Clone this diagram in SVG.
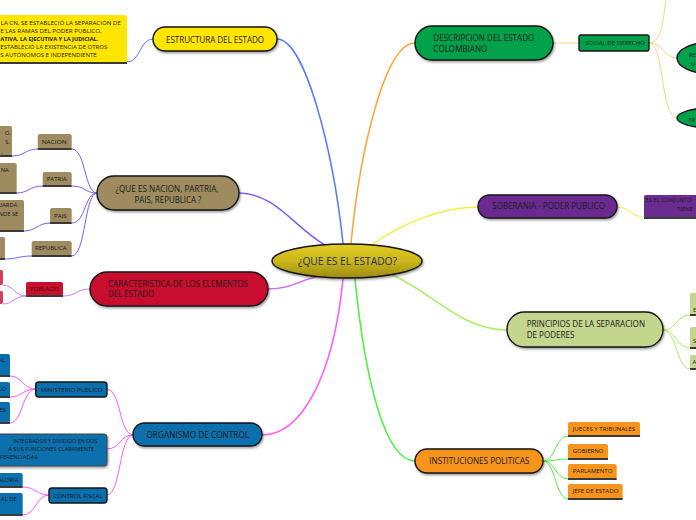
<svg xmlns="http://www.w3.org/2000/svg" width="696" height="520" viewBox="0 0 696 520">
<style>
text{font-family:"Open Sans","Noto Sans",sans-serif;fill:#1a1a1a}
.m{font-size:8.4px}
.s{font-size:5.8px}
.t{font-size:5.3px}
.c{fill:none;stroke-linecap:round}
.k{stroke:#151515;stroke-width:1.4}
.ul{stroke:#3a3a3a;stroke-width:2}
.b1{stroke:#5a7cf5}
.b2{stroke:#7c5cf8}
.b3{stroke:#c87af7}
.b4{stroke:#ff5cf5}
.b5{stroke:#ffa533}
.b5l{stroke:#ffcf85}
.b6{stroke:#f0f03c}
.b7{stroke:#a8f060}
.b8{stroke:#50ef42}
</style>
<defs>
<linearGradient id="cg" x1="0" y1="0" x2="0" y2="1"><stop offset="0" stop-color="#e0cd24"/><stop offset="0.5" stop-color="#cbb71b"/><stop offset="1" stop-color="#9c8b10"/></linearGradient>
<filter id="sh" x="-10%" y="-30%" width="125%" height="180%"><feDropShadow dx="1" dy="1.5" stdDeviation="0.8" flood-color="#000" flood-opacity="0.4"/></filter>
</defs>
<rect width="696" height="520" fill="#fff"/>

<g id="connectors">
<path class="c b1" stroke-width="1.6" d="M343,243 C333,150 305,39 277,39"/>
<path class="c b1" stroke-width="1" d="M127,62 C141,62 139,39 153,39"/>
<path class="c b2" stroke-width="1.5" d="M325,245 C295,228 275,193 239,193"/>
<path class="c b2" stroke-width="1" d="M97,193 C84,193 86,149 72,149"/>
<path class="c b2" stroke-width="1" d="M97,193 C84,193 86,186 72,186"/>
<path class="c b2" stroke-width="1" d="M97,193 C84,193 86,223 72,223"/>
<path class="c b2" stroke-width="1" d="M97,193 C84,193 86,256 72,256"/>
<path class="c b2" stroke-width="1" d="M37.7,149 C25,149 25,156 12,156"/>
<path class="c b2" stroke-width="1" d="M42.7,186 C29,186 29,193 16.7,193"/>
<path class="c b2" stroke-width="1" d="M50,223 C37,223 37,231 24,231"/>
<path class="c b2" stroke-width="1" d="M31.7,256 C18,256 18,259 5,259"/>
<path class="c b3" stroke-width="1.5" d="M320,276 C300,280 290,289 268,289"/>
<path class="c b3" stroke-width="1" d="M90,289 C76,289 77,296 63,296"/>
<path class="c b3" stroke-width="1" d="M26,296 C14,296 14,285 3,285"/>
<path class="c b3" stroke-width="1" d="M26,296 C14,296 14,304 3,304"/>
<path class="c b4" stroke-width="1.6" d="M343,279 C333,380 300,435 262,435"/>
<path class="c b4" stroke-width="1" d="M133,435 C119,435 121,389 107,389"/>
<path class="c b4" stroke-width="1" d="M133,435 C119,435 121,449 107,449"/>
<path class="c b4" stroke-width="1" d="M133,435 C119,435 121,495 107,495"/>
<path class="c b4" stroke-width="1" d="M35.7,389 C22,389 23,376 10,376"/>
<path class="c b4" stroke-width="1" d="M35.7,389 C22,389 23,397 10,397"/>
<path class="c b4" stroke-width="1" d="M35.7,389 C22,389 23,423 10,423"/>
<path class="c b4" stroke-width="1" d="M49,495 C36,495 36,487 22.7,487"/>
<path class="c b4" stroke-width="1" d="M49,495 C36,495 36,515 22.7,515"/>
<path class="c b5" stroke-width="1.6" d="M351,243 C360,150 385,43 415,43"/>
<path class="c b5l" stroke-width="1" d="M553,43 L579,43"/>
<path class="c b5l" stroke-width="1" d="M649,43 C665,43 662,58 677,58"/>
<path class="c b5l" stroke-width="1" d="M649,43 C665,43 660,118 677,118"/>
<path class="c b5l" stroke-width="1" d="M649,43 C664,43 663,12 667,-5"/>
<path class="c b6" stroke-width="1.5" d="M373,244 C400,225 440,207 478,207"/>
<path class="c b6" stroke-width="1" d="M617,207 C631,207 630,217 644,217"/>
<path class="c b7" stroke-width="1.5" d="M390,274 C430,290 460,330 507,330"/>
<path class="c b7" stroke-width="1" d="M663,330 C677,330 676,315 690,315"/>
<path class="c b7" stroke-width="1" d="M663,330 C677,330 676,348 690,348"/>
<path class="c b7" stroke-width="1" d="M663,330 C677,330 676,369 690,369"/>
<path class="c b8" stroke-width="1.6" d="M355,279 C365,380 385,461 415,461"/>
<path class="c b8" stroke-width="1" d="M543,461 C556,461 555,436 568,436"/>
<path class="c b8" stroke-width="1" d="M543,461 C556,461 555,459 568,459"/>
<path class="c b8" stroke-width="1" d="M543,461 C556,461 555,479 568,479"/>
<path class="c b8" stroke-width="1" d="M543,461 C556,461 555,499 568,499"/>
</g>

<g id="center">
<ellipse cx="347" cy="261" rx="75" ry="17" fill="url(#cg)" class="k" filter="url(#sh)"/>
<text x="347.5" y="265" text-anchor="middle" font-size="10" style="fill:#1f2d5c" textLength="99" lengthAdjust="spacingAndGlyphs">¿QUE ES EL ESTADO?</text>
</g>

<g id="estructura-nota">
<rect x="-10" y="15" width="137" height="48" rx="3" fill="#ffe500"/>
<line x1="-10" y1="63" x2="127" y2="63" class="ul"/>
<text class="t" x="120.7" y="24.7" text-anchor="end" textLength="120" lengthAdjust="spacingAndGlyphs">LA CN, SE ESTABLECIÓ LA SEPARACIÓN DE</text>
<text class="t" x="101.7" y="32.7" text-anchor="end" textLength="101.5" lengthAdjust="spacingAndGlyphs">E LAS RAMAS DEL PODER PUBLICO,</text>
<text class="t" x="98.3" y="40.7" text-anchor="end" font-weight="bold" textLength="98" lengthAdjust="spacingAndGlyphs">ATIVA, LA EJECUTIVA Y LA JUDICIAL.</text>
<text class="t" x="107.3" y="49" text-anchor="end" textLength="107" lengthAdjust="spacingAndGlyphs">ESTABLECIÓ LA EXISTENCIA DE OTROS</text>
<text class="t" x="96.7" y="57.3" text-anchor="end" textLength="96.5" lengthAdjust="spacingAndGlyphs">S AUTÓNOMOS E INDEPENDIENTE</text>
</g>

<g id="estructura">
<rect x="153" y="27" width="124" height="24" rx="12" fill="#ffe500" class="k" filter="url(#sh)"/>
<text class="m" x="215" y="42.7" text-anchor="middle" textLength="98" lengthAdjust="spacingAndGlyphs">ESTRUCTURA DEL ESTADO</text>
</g>

<g id="nacion-main">
<rect x="97" y="176" width="142" height="34" rx="17" fill="#9e8b60" class="k" filter="url(#sh)"/>
<text class="m" x="167" y="191.7" text-anchor="middle" textLength="103" lengthAdjust="spacingAndGlyphs">¿QUE ES NACION, PARTRIA,</text>
<text class="m" x="168" y="202.5" text-anchor="middle" textLength="67" lengthAdjust="spacingAndGlyphs">PAIS, REPUBLICA ?</text>
</g>

<g id="nacion">
<rect x="37.7" y="134" width="34" height="15" rx="2" fill="#9e8b60"/>
<line x1="37.7" y1="149" x2="71.7" y2="149" class="ul"/>
<text class="s" x="54.2" y="144" text-anchor="middle" textLength="25" lengthAdjust="spacingAndGlyphs">NACION</text>
</g>
<g id="patria">
<rect x="42.7" y="172" width="29" height="14" rx="2" fill="#9e8b60"/>
<line x1="42.7" y1="186" x2="71.7" y2="186" class="ul"/>
<text class="s" x="56.7" y="181" text-anchor="middle" textLength="20" lengthAdjust="spacingAndGlyphs">PATRIA</text>
</g>
<g id="pais">
<rect x="50" y="208" width="21.7" height="15" rx="2" fill="#9e8b60"/>
<line x1="50" y1="223" x2="71.7" y2="223" class="ul"/>
<text class="s" x="60.4" y="218" text-anchor="middle" textLength="12.7" lengthAdjust="spacingAndGlyphs">PAIS</text>
</g>
<g id="republica">
<rect x="31.7" y="241" width="40" height="15" rx="2" fill="#9e8b60"/>
<line x1="31.7" y1="256" x2="71.7" y2="256" class="ul"/>
<text class="s" x="50.8" y="249.5" text-anchor="middle" textLength="31.7" lengthAdjust="spacingAndGlyphs">REPUBLICA</text>
</g>
<g id="nacion-def">
<rect x="-5" y="126" width="17" height="30" rx="2" fill="#9e8b60"/>
<line x1="-5" y1="156" x2="12" y2="156" class="ul"/>
<text class="s" x="10.7" y="135" text-anchor="end">O,</text>
<text class="s" x="10" y="144.3" text-anchor="end">S,</text>
<text class="s" x="3" y="153.5" text-anchor="end">,</text>
</g>
<g id="patria-def">
<rect x="-5" y="163" width="21.7" height="30" rx="2" fill="#9e8b60"/>
<line x1="-5" y1="193" x2="16.7" y2="193" class="ul"/>
<text class="s" x="8.7" y="171.7" text-anchor="end">NA</text>
</g>
<g id="pais-def">
<rect x="-5" y="200" width="29" height="31" rx="2" fill="#9e8b60"/>
<line x1="-5" y1="231" x2="24" y2="231" class="ul"/>
<text class="s" x="17.3" y="207.3" text-anchor="end">UARDA</text>
<text class="s" x="18.3" y="215.7" text-anchor="end">NDE SE</text>
</g>
<g id="republica-def">
<rect x="-5" y="237" width="10" height="22" rx="2" fill="#9e8b60"/>
<line x1="-5" y1="259" x2="5" y2="259" class="ul"/>
</g>

<g id="caracteristica">
<rect x="90" y="272" width="178" height="34" rx="17" fill="#c8102e" class="k" filter="url(#sh)"/>
<text class="m" x="108" y="287.3" textLength="140" lengthAdjust="spacingAndGlyphs">CARACTERISTICA DE LOS ELEMENTOS</text>
<text class="m" x="108" y="297" textLength="46" lengthAdjust="spacingAndGlyphs">DEL ESTADO</text>
</g>
<g id="poblacio">
<rect x="26" y="282" width="37" height="14" rx="2" fill="#c8102e"/>
<line x1="26" y1="296" x2="63" y2="296" class="ul"/>
<text class="s" x="44.5" y="290.7" text-anchor="middle" style="fill:#3a0a0a" textLength="29" lengthAdjust="spacingAndGlyphs">POBLACIO</text>
</g>
<g id="poblacio-a">
<rect x="-5" y="270" width="8" height="15" rx="2" fill="#d0405a"/>
</g>
<g id="poblacio-b">
<rect x="-5" y="291" width="8" height="13" rx="2" fill="#d0405a"/>
</g>

<g id="organismo">
<rect x="133" y="423" width="129" height="23" rx="11.5" fill="#0b6fae" class="k" filter="url(#sh)"/>
<text class="m" x="197.8" y="437.7" text-anchor="middle" textLength="102.7" lengthAdjust="spacingAndGlyphs">ORGANISMO DE CONTROL</text>
</g>
<g id="ministerio">
<rect x="35.7" y="382" width="71.3" height="15" rx="3" fill="#0b6fae" class="k"/>
<text class="s" x="71.7" y="391.7" text-anchor="middle" textLength="62" lengthAdjust="spacingAndGlyphs">MINISTERIO PUBLICO</text>
</g>
<g id="ministerio-a">
<rect x="-5" y="354" width="15" height="22" rx="2" fill="#0b6fae"/>
<line x1="-5" y1="376" x2="10" y2="376" class="ul"/>
<text class="s" x="4.7" y="361.7" text-anchor="end">AL</text>
</g>
<g id="ministerio-b">
<rect x="-5" y="382" width="15" height="15" rx="2" fill="#0b6fae"/>
<line x1="-5" y1="397" x2="10" y2="397" class="ul"/>
<text class="s" x="6" y="391" text-anchor="end">LO</text>
</g>
<g id="ministerio-c">
<rect x="-5" y="402" width="15" height="21" rx="2" fill="#0b6fae"/>
<line x1="-5" y1="423" x2="10" y2="423" class="ul"/>
<text class="s" x="6" y="411.5" text-anchor="end">ES</text>
</g>
<g id="organismo-def">
<rect x="-5" y="434" width="112" height="32" rx="3" fill="#0b6fae" stroke="#444" stroke-width="1" filter="url(#sh)"/>
<text class="t" x="97.3" y="442.7" text-anchor="end" textLength="84" lengthAdjust="spacingAndGlyphs">INTEGRADOS Y DIVIDIDO EN DOS</text>
<text class="t" x="94.3" y="451" text-anchor="end" textLength="86" lengthAdjust="spacingAndGlyphs">A SUS FUNCIONES CLARAMENTE</text>
<text class="t" x="37.7" y="459.3" text-anchor="end" textLength="37.7" lengthAdjust="spacingAndGlyphs">FERENCIADAS</text>
</g>
<g id="control-fiscal">
<rect x="49" y="488" width="58" height="15" rx="3" fill="#0b6fae" class="k"/>
<text class="s" x="78" y="497.7" text-anchor="middle" textLength="49.3" lengthAdjust="spacingAndGlyphs">CONTROL FISCAL</text>
</g>
<g id="control-a">
<rect x="-5" y="473" width="27.7" height="14" rx="2" fill="#0b6fae"/>
<line x1="-5" y1="487" x2="22.7" y2="487" class="ul"/>
<text class="s" x="18.3" y="481.7" text-anchor="end">ALORIA</text>
</g>
<g id="control-b">
<rect x="-5" y="493" width="27.7" height="22" rx="2" fill="#0b6fae"/>
<line x1="-5" y1="515" x2="22.7" y2="515" class="ul"/>
<text class="s" x="16.7" y="501.3" text-anchor="end">AL DE</text>
</g>

<g id="descripcion">
<rect x="415" y="26" width="138" height="34" rx="17" fill="#00a14b" class="k" filter="url(#sh)"/>
<text class="m" x="433.3" y="40.7" textLength="101" lengthAdjust="spacingAndGlyphs">DESCRIPCION DEL ESTADO</text>
<text class="m" x="433.3" y="51.7" textLength="54" lengthAdjust="spacingAndGlyphs">COLOMBIANO</text>
</g>
<g id="social">
<rect x="579" y="35" width="70" height="16" rx="2" fill="#00a14b" class="k"/>
<text class="s" x="615" y="44.5" text-anchor="middle" textLength="60" lengthAdjust="spacingAndGlyphs">SOCIAL DE DERECHO</text>
</g>
<g id="social-a">
<ellipse cx="712" cy="58" rx="35" ry="16" fill="#00a14b" class="k"/>
<text class="s" x="689" y="56.5">RE</text>
<text class="s" x="691" y="65.5">U</text>
</g>
<g id="social-b">
<ellipse cx="712" cy="118" rx="35" ry="10" fill="#00a14b" class="k"/>
<text class="s" x="688" y="121.5">TR</text>
</g>

<g id="soberania">
<rect x="478" y="195" width="139" height="23" rx="11.5" fill="#6b2c91" class="k" filter="url(#sh)"/>
<text class="m" x="548.6" y="209.3" text-anchor="middle" textLength="112.7" lengthAdjust="spacingAndGlyphs">SOBERANIA - PODER PUBLICO</text>
</g>
<g id="soberania-def">
<rect x="644" y="195" width="60" height="23" rx="2" fill="#6b2c91"/>
<line x1="644" y1="218" x2="700" y2="218" class="ul"/>
<text class="s" x="645.5" y="201.5">ES EL CONJUNTO</text>
<text class="s" x="677" y="211">TIENE</text>
</g>

<g id="principios">
<rect x="507" y="312" width="156" height="35" rx="17.5" fill="#c4d68d" class="k" filter="url(#sh)"/>
<text class="m" x="526.7" y="326.7" textLength="118.3" lengthAdjust="spacingAndGlyphs">PRINCIPIOS DE LA SEPARACION</text>
<text class="m" x="526.7" y="337.7" textLength="47.6" lengthAdjust="spacingAndGlyphs">DE PODERES</text>
</g>
<g id="principios-a">
<rect x="690" y="293" width="12" height="22" rx="2" fill="#c4d68d"/>
<line x1="690" y1="315" x2="700" y2="315" class="ul"/>
<text class="s" x="693" y="311.5">E</text>
</g>
<g id="principios-b">
<rect x="690" y="327" width="12" height="21" rx="2" fill="#c4d68d"/>
<line x1="690" y1="348" x2="700" y2="348" class="ul"/>
<text class="s" x="693" y="343">S</text>
</g>
<g id="principios-c">
<rect x="690" y="355" width="12" height="14" rx="2" fill="#c4d68d"/>
<line x1="690" y1="369" x2="700" y2="369" class="ul"/>
<text class="s" x="692.5" y="363.5">A</text>
</g>

<g id="instituciones">
<rect x="415" y="449" width="128" height="24" rx="12" fill="#f7941d" class="k" filter="url(#sh)"/>
<text class="m" x="479.3" y="464" text-anchor="middle" textLength="100" lengthAdjust="spacingAndGlyphs">INSTITUCIONES POLITICAS</text>
</g>
<g id="jueces">
<rect x="568" y="422" width="72" height="14" rx="2" fill="#f7941d"/>
<line x1="568" y1="436" x2="640" y2="436" class="ul"/>
<text class="s" x="572.7" y="431" textLength="62.3" lengthAdjust="spacingAndGlyphs">JUECES Y TRIBUNALES</text>
</g>
<g id="gobierno">
<rect x="568" y="444" width="40" height="15" rx="2" fill="#f7941d"/>
<line x1="568" y1="459" x2="608" y2="459" class="ul"/>
<text class="s" x="572.7" y="453.3" textLength="30.7" lengthAdjust="spacingAndGlyphs">GOBIERNO</text>
</g>
<g id="parlamento">
<rect x="568" y="464" width="48.7" height="15" rx="2" fill="#f7941d"/>
<line x1="568" y1="479" x2="616.7" y2="479" class="ul"/>
<text class="s" x="572.7" y="473.3" textLength="39.7" lengthAdjust="spacingAndGlyphs">PARLAMENTO</text>
</g>
<g id="jefe">
<rect x="568" y="484" width="54.7" height="15" rx="2" fill="#f7941d"/>
<line x1="568" y1="499" x2="622.7" y2="499" class="ul"/>
<text class="s" x="572.7" y="492.7" textLength="45.7" lengthAdjust="spacingAndGlyphs">JEFE DE ESTADO</text>
</g>
</svg>
